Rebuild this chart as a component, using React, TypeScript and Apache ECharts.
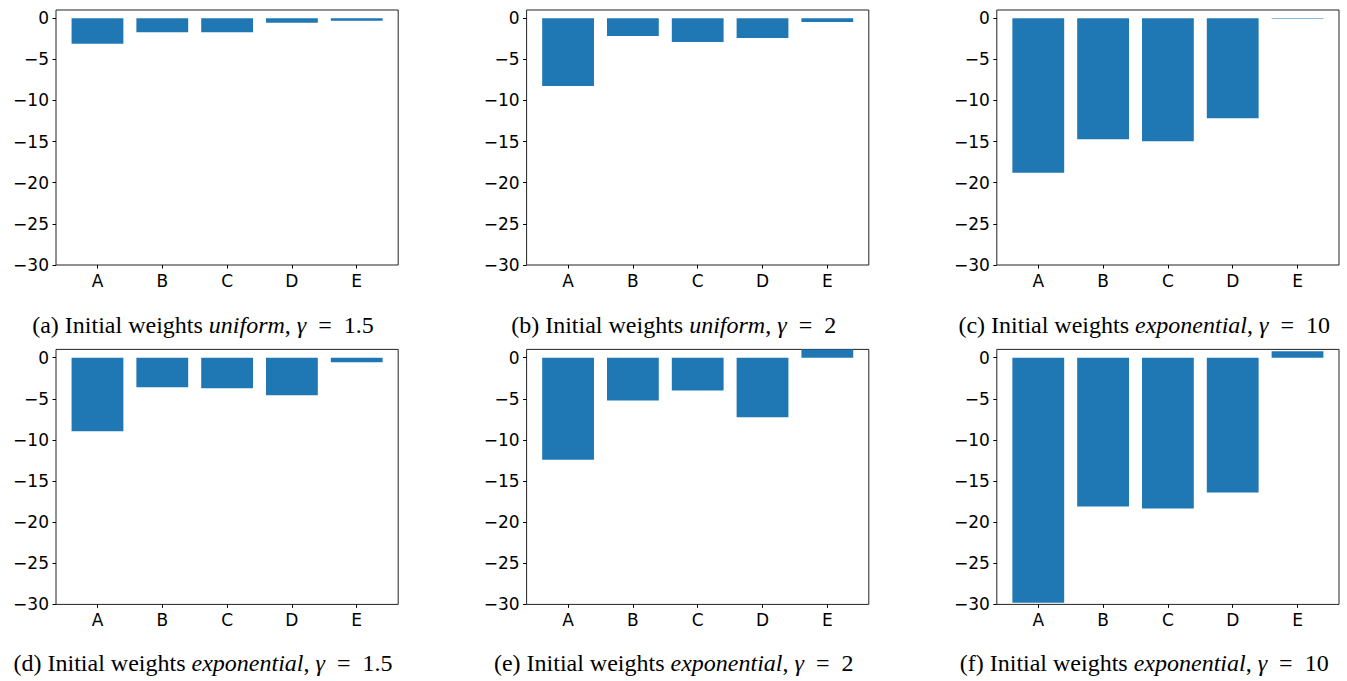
import React, { useEffect, useRef } from 'react';
import * as echarts from 'echarts';

const categories = ['A', 'B', 'C', 'D', 'E'];
const uniformG15 = [-3.1, -1.7, -1.7, -0.55, -0.3];
const uniformG2 = [-8.25, -2.15, -2.9, -2.4, -0.45];
const exponentialG10a = [-18.8, -14.7, -14.95, -12.15, -0.06];
const exponentialG15 = [-8.95, -3.6, -3.73, -4.58, -0.55];
const exponentialG2 = [-12.4, -5.2, -4.0, -7.25, 1.0];
const exponentialG10b = [-29.8, -18.1, -18.35, -16.4, 0.77];
const yTickValues = [-30, -25, -20, -15, -10, -5, 0];

const panelLetters = ['a', 'b', 'c', 'd', 'e', 'f'];
const panelWeights = ['uniform', 'uniform', 'exponential', 'exponential', 'exponential', 'exponential'];
const panelGammas = ['1.5', '2', '10', '1.5', '2', '10'];
const panelSeries = [uniformG15, uniformG2, exponentialG10a, exponentialG15, exponentialG2, exponentialG10b];

const BAR_COLOR = '#1f77b4';
const GRID_LEFTS = [56, 526.6, 996.8];
const GRID_TOPS = [10, 349.4];
const GRID_W = 342.2;
const GRID_H = 255;
const CAPTION_X = [203, 673.7, 1144.2];
const CAPTION_Y = [325, 663];

const fmtY = (v: number) => (v < 0 ? '\u2212' + Math.abs(v) : String(v));

export default function App() {
  const ref = useRef<HTMLDivElement>(null);
  useEffect(() => {
    if (!ref.current) return;
    const chart = echarts.init(ref.current, undefined, { renderer: 'svg' });
    const grids: any[] = [];
    const xAxes: any[] = [];
    const yAxes: any[] = [];
    const series: any[] = [];
    const graphics: any[] = [];
    panelSeries.forEach((vals, i) => {
      const row = Math.floor(i / 3);
      const col = i % 3;
      grids.push({
        left: GRID_LEFTS[col],
        top: GRID_TOPS[row],
        width: GRID_W,
        height: GRID_H,
        show: true,
        borderColor: '#222',
        borderWidth: 1,
        backgroundColor: 'transparent',
      });
      xAxes.push({
        gridIndex: i,
        type: 'value',
        min: -0.64,
        max: 4.64,
        splitLine: { show: false },
        axisLine: { show: false, onZero: false },
        axisTick: {
          show: true,
          customValues: [0, 1, 2, 3, 4],
          length: 3.5,
          lineStyle: { color: '#000', width: 1 },
        },
        axisLabel: {
          customValues: [0, 1, 2, 3, 4],
          formatter: (v: number) => categories[Math.round(v)] ?? '',
          fontSize: 17,
          fontFamily: 'DejaVu Sans',
          color: '#000',
          margin: 7,
        },
      });
      yAxes.push({
        gridIndex: i,
        type: 'value',
        min: -30,
        max: 1,
        interval: 5,
        splitLine: { show: false },
        axisLine: { show: false, onZero: false },
        axisTick: {
          show: true,
          customValues: yTickValues,
          length: 3.5,
          lineStyle: { color: '#000', width: 1 },
        },
        axisLabel: {
          customValues: yTickValues,
          formatter: fmtY,
          fontSize: 17,
          fontFamily: 'DejaVu Sans',
          color: '#000',
          margin: 7,
        },
      });
      series.push({
        type: 'bar',
        xAxisIndex: i,
        yAxisIndex: i,
        data: vals.map((v, j) => [j, v]),
        barWidth: 51.8,
        clip: true,
        itemStyle: { color: BAR_COLOR },
        silent: true,
      });
      graphics.push({
        type: 'text',
        x: CAPTION_X[col],
        y: CAPTION_Y[row],
        style: {
          text: `{n|(${panelLetters[i]}) Initial weights }{i|${panelWeights[i]}}{n|, }{g|γ}{n|  =  ${panelGammas[i]}}`,
          rich: {
            n: { fontFamily: 'Liberation Serif', fontSize: 24, fill: '#000' },
            i: { fontFamily: 'Liberation Serif', fontSize: 24, fontStyle: 'italic', fill: '#000' },
            g: { fontFamily: 'Liberation Serif', fontSize: 24, fontStyle: 'italic', fill: '#000' },
          },
          fill: '#000',
          align: 'center',
          verticalAlign: 'middle',
          textAlign: 'center',
          textVerticalAlign: 'middle',
        },
      });
    });
    chart.setOption({
      animation: false,
      backgroundColor: '#fff',
      grid: grids,
      xAxis: xAxes,
      yAxis: yAxes,
      series,
      graphic: graphics,
    });
    return () => chart.dispose();
  }, []);
  return (
    <div
      ref={ref}
      style={{ position: 'absolute', left: 0, top: 0, width: 1347, height: 681 }}
    />
  );
}
